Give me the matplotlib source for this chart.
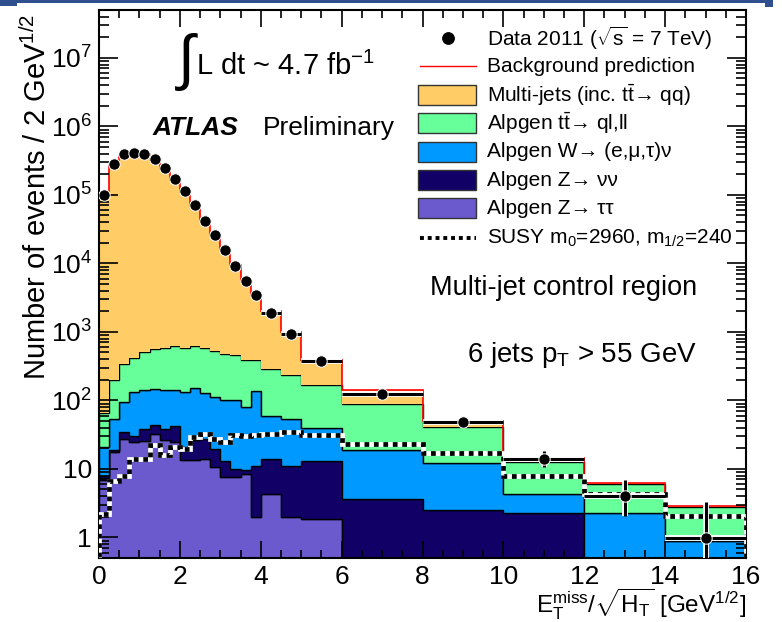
import numpy as np
import matplotlib.pyplot as plt
from matplotlib.patches import Rectangle
from matplotlib.lines import Line2D
from matplotlib.ticker import FixedLocator, LogLocator, NullFormatter, MultipleLocator

plt.rcParams['font.family'] = ['Liberation Sans', 'DejaVu Sans']
plt.rcParams['mathtext.fontset'] = 'custom'
plt.rcParams['mathtext.rm'] = 'Liberation Sans'
plt.rcParams['mathtext.it'] = 'Liberation Sans:italic'
plt.rcParams['mathtext.bf'] = 'Liberation Sans:bold'

# bin edges (GeV^1/2)
edges = [0, 0.25, 0.5, 0.75, 1.0, 1.25, 1.5, 1.75, 2.0, 2.25, 2.5, 2.75, 3.0,
         3.25, 3.5, 3.75, 4.0, 4.5, 5.0, 6.0, 8.0, 10.0, 12.0, 14.0, 16.0]

# data 2011
data = [1.0e5, 2.85e5, 3.9e5, 4.1e5, 3.9e5, 3.3e5, 2.46e5, 1.7e5, 1.13e5, 7.0e4,
        4.2e4, 2.56e4, 1.58e4, 9.25e3, 5.6e3, 3.45e3, 1.86e3, 930, 371, 122,
        47.7, 13.8, 3.97, 0.98]
data_err_lo = [0] * 21 + [3.2, 1.9, 0.83]
data_err_hi = [0] * 21 + [4.4, 3.0, 2.3]

# backgrounds, bottom of the stack first
z_tautau = [6.8, 17.5, 27.6, 24.6, 25.5, 32.6, 26, 24.6, 13.5, 13.6, 14.1, 10.5,
            7.5, 7.5, 8.5, 2.0, 4.35, 2.0, 1.87, 0, 0, 0, 0, 0]
z_nunu = [1.2, 1.1, 6.8, 5.2, 13.1, 10.4, 12.6, 17.1, 7.5, 12.4, 13.5, 9.2,
          5.5, 2.5, 1.0, 9.0, 9.75, 9.0, 11.0, 3.67, 2.48, 2.26, 0, 0]
w_lnu = [13, 35, 61, 102, 101, 105, 104, 98, 111, 125, 100, 92, 87, 90, 71, 126,
         46, 43, 27, 15.4, 9.8, 2.1, 2.3, 0.9]
ttbar = [45, 146, 241, 288, 367, 420, 445, 481, 456, 463, 460, 408, 375, 354,
         304, 247, 230, 178, 126, 68.6, 28.5, 8.3, 3.8, 1.87]
multijet = [1.0e5, 2.6e5, 3.6e5, 3.9e5, 3.8e5, 3.2e5, 2.4e5, 1.65e5, 1.1e5, 6.9e4,
            4.2e4, 2.55e4, 1.55e4, 9.0e3, 5.4e3, 3.1e3, 1.7e3, 770, 224, 52,
            9.2, 1.7, 0.1, 0.09]

# SUSY signal m0=2960, m1/2=240 (not stacked)
susy = [2.17, 6.6, 7.8, 14.1, 13.8, 22.5, 15.7, 20.9, 19.3, 29, 32.7, 27.6,
        24.6, 30.8, 29.8, 30.8, 32.7, 34.5, 31.7, 22.8, 17.2, 8.0, 4.35, 2.03]

c_multi = '#FFCC66'
c_tt = '#66FF99'
c_w = '#0099FF'
c_znn = '#110066'
c_ztt = '#6A5ACD'

W, H = 782, 622
fig = plt.figure(figsize=(W / 100, H / 100), dpi=100)
ax = fig.add_axes([99 / W, 64 / H, 647 / W, 548 / H])

def fx(x):
    return x / W

def fy(y):
    return 1 - y / H

edges = np.array(edges)
layers = [(z_tautau, c_ztt), (z_nunu, c_znn), (w_lnu, c_w), (ttbar, c_tt)]
bottom = np.zeros(len(data))
for vals, col in layers:
    top = bottom + np.array(vals)
    ax.stairs(np.maximum(top, 1e-3), edges, baseline=np.maximum(bottom, 1e-3),
              fill=True, facecolor=col, edgecolor='black', linewidth=1.0)
    bottom = top
total = bottom + np.array(multijet)
ax.stairs(total, edges, baseline=bottom, fill=True, facecolor=c_multi,
          edgecolor='none')
ax.stairs(total, edges, color='red', linewidth=1.2)

# SUSY dashed
ax.stairs(susy, edges, color='white', linewidth=3.4, zorder=3)
ax.stairs(susy, edges, color='black', linewidth=3.4, linestyle=(0, (1, 1)), zorder=3.1)

# data points
centers = 0.5 * (edges[1:] + edges[:-1])
xerr = 0.5 * (edges[1:] - edges[:-1])
yerr = [data_err_lo, data_err_hi]
ax.errorbar(centers, data, xerr=xerr, yerr=yerr, fmt='none', ecolor='white',
            elinewidth=4.2, capsize=0, zorder=4)
ax.errorbar(centers, data, xerr=xerr, yerr=yerr, fmt='o', color='black',
            ms=8.2, mec='white', mew=0.7, elinewidth=2.2, capsize=0, zorder=5)

ax.set_xlim(0, 16)
ax.set_yscale('log')
ax.set_ylim(0.5, 5e7)

ax.xaxis.set_major_locator(MultipleLocator(2))
ax.xaxis.set_minor_locator(MultipleLocator(0.5))
ax.yaxis.set_major_locator(FixedLocator([1, 10, 1e2, 1e3, 1e4, 1e5, 1e6, 1e7]))
ax.yaxis.set_minor_locator(LogLocator(base=10, subs=np.arange(2, 10), numticks=100))
ax.yaxis.set_minor_formatter(NullFormatter())
ax.set_yticklabels(['1', '10', '$10^{2}$', '$10^{3}$', '$10^{4}$', '$10^{5}$',
                    '$10^{6}$', '$10^{7}$'])
ax.tick_params(which='both', direction='in', top=True, right=True, width=1.2,
               labelsize=19)
ax.tick_params(axis='x', which='major', length=12, pad=5)
ax.tick_params(axis='x', which='minor', length=6)
ax.tick_params(axis='y', which='major', length=13.5, pad=5)
ax.tick_params(axis='y', which='minor', length=7)
for s in ax.spines.values():
    s.set_linewidth(1.5)

fig.text(fx(746), fy(614),
         r'E$_{\mathrm{T}}^{\mathrm{miss}}$/$\sqrt{\mathrm{H}_{\mathrm{T}}}$ [GeV$^{1/2}$]',
         fontsize=17.5, ha='right', va='baseline')
fig.text(fx(37), fy(14), 'Number of events / 2 GeV$^{1/2}$', fontsize=21,
         rotation=90, ha='center', va='top')

# annotations
fig.text(fx(178), fy(62), '\u222b', fontsize=44, ha='left', va='center')
fig.text(fx(196), fy(75), 'L dt ~ 4.7 fb$^{-1}$', fontsize=21, ha='left', va='baseline')
fig.text(fx(153), fy(135), 'ATLAS', fontsize=19, fontweight='bold', style='italic',
         ha='left', va='baseline')
fig.text(fx(263), fy(135), 'Preliminary', fontsize=19, ha='left', va='baseline')
fig.text(fx(430), fy(295), 'Multi-jet control region', fontsize=19.5, ha='left',
         va='baseline')
fig.text(fx(467), fy(362), r'6 jets p$_{\mathrm{T}}$ > 55 GeV', fontsize=20, ha='left',
         va='baseline')

# legend
tx = 487
fs = 15
fig.add_artist(Line2D([fx(448)], [fy(38)], marker='o', color='black', ms=8.2,
                      transform=fig.transFigure))
fig.text(fx(tx), fy(38), r'Data 2011 ($\sqrt{\mathrm{s}}$ = 7 TeV)', fontsize=fs, va='center')
fig.add_artist(Line2D([fx(420), fx(476)], [fy(66), fy(66)], color='red', lw=1.0,
                      transform=fig.transFigure))
fig.text(fx(tx), fy(66), 'Background prediction', fontsize=fs, va='center')
boxes = [
    (95, c_multi, 'Multi-jets (inc. t$\\bar{\\mathrm{t}}$\u2192 qq)'),
    (123, c_tt, 'Alpgen t$\\bar{\\mathrm{t}}$\u2192 ql,ll'),
    (151.5, c_w, 'Alpgen W\u2192 (e,\u03bc,\u03c4)\u03bd'),
    (180, c_znn, 'Alpgen Z\u2192 \u03bd\u03bd'),
    (208, c_ztt, 'Alpgen Z\u2192 \u03c4\u03c4'),
]
for yc, col, lab in boxes:
    fig.add_artist(Rectangle((fx(418), fy(yc + 10)), 58 / W, 20 / H, facecolor=col,
                             edgecolor='#333333', lw=1.0, transform=fig.transFigure))
    fig.text(fx(tx), fy(yc), lab, fontsize=fs, va='center')
fig.add_artist(Line2D([fx(420), fx(476)], [fy(238), fy(238)], color='black', lw=2.8,
                      linestyle=(0, (1, 1)), transform=fig.transFigure))
fig.text(fx(tx), fy(238), 'SUSY m$_{0}$=2960, m$_{1/2}$=240', fontsize=fs, va='center')

# slide frame strip at the top
for x0, x1, h in [(0, 773, 3), (0, 17, 6), (765, 773, 7)]:
    fig.add_artist(Rectangle((fx(x0), fy(h)), (x1 - x0) / W, h / H,
                             facecolor='#2F4F8F', edgecolor='none',
                             transform=fig.transFigure))

fig.savefig('out.png', dpi=100)
